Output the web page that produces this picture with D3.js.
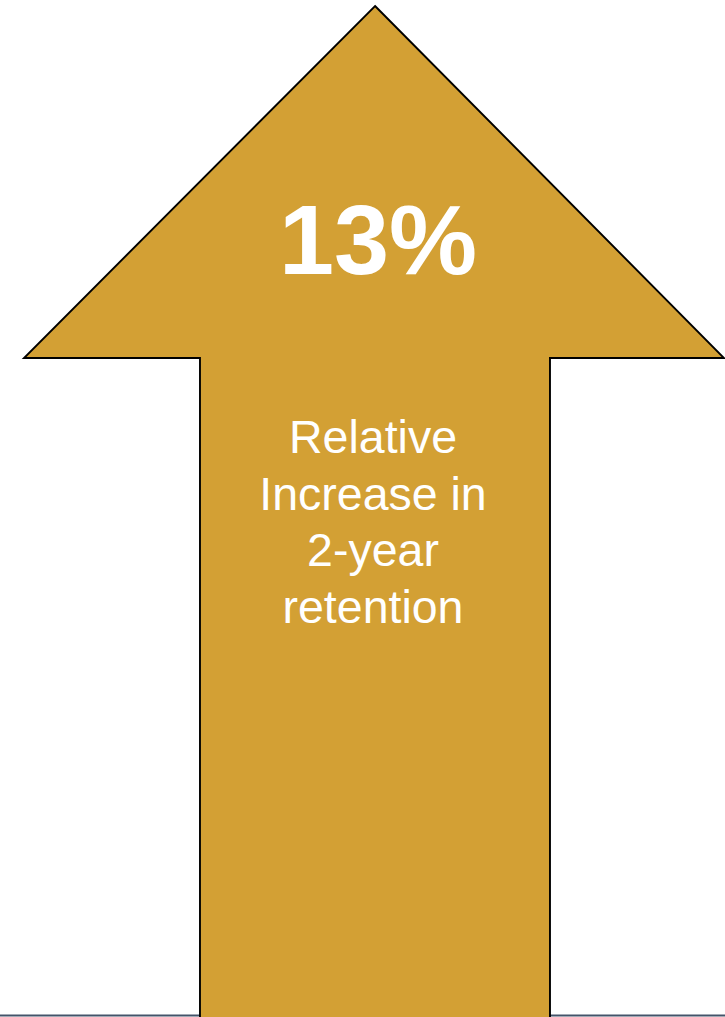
<!DOCTYPE html>
<html>
<head>
<meta charset="utf-8">
<script src="https://cdn.jsdelivr.net/npm/d3@7/dist/d3.min.js"></script>
<style>
  html, body { margin: 0; padding: 0; background: #fff; }
  svg { display: block; }
</style>
</head>
<body>
<svg id="chart" width="725" height="1017"></svg>
<script>
// Headline figure and its caption
const metricValue = [13];
const metricUnit = ["%"];
const captionLines = ["Relative", "Increase in", "2-year", "retention"];

const W = 725, H = 1017;
const svg = d3.select("#chart");

// Arrow outline in unit space: x in [0,1] across the head, y in [0,1] from tip to base
const x = d3.scaleLinear().domain([0, 1]).range([24, 724]);
const y = d3.scaleLinear().domain([0, 1]).range([6, H + 4]);
const headY = 0.3468;     // where the head meets the shaft
const shaftL = 0.2514, shaftR = 0.7514;

const outline = [
  [0.5015, 0], [1, headY], [shaftR, headY], [shaftR, 1],
  [shaftL, 1], [shaftL, headY], [0, headY]
];

// baseline rule along the bottom
svg.append("line")
  .attr("x1", 0).attr("x2", W)
  .attr("y1", H - 1.5).attr("y2", H - 1.5)
  .attr("stroke", "#44546a").attr("stroke-width", 2);

svg.append("path")
  .attr("d", d3.line().x(d => x(d[0])).y(d => y(d[1])).curve(d3.curveLinearClosed)(outline))
  .attr("fill", "#d3a034")
  .attr("stroke", "#000")
  .attr("stroke-width", 1.9)
  .attr("stroke-linejoin", "miter");

svg.append("text")
  .attr("x", 378).attr("y", 274)
  .attr("text-anchor", "middle")
  .attr("font-family", "'Liberation Sans', Arial, sans-serif")
  .attr("font-weight", "bold")
  .attr("font-size", 99)
  .attr("fill", "#fff")
  .text(metricValue[0] + metricUnit[0]);

svg.append("g")
  .selectAll("text")
  .data(captionLines)
  .join("text")
  .attr("x", 373)
  .attr("y", (d, i) => 453 + i * 56.7)
  .attr("text-anchor", "middle")
  .attr("font-family", "'Liberation Sans', Arial, sans-serif")
  .attr("font-size", 46.5)
  .attr("fill", "#fff")
  .text(d => d);
</script>
</body>
</html>
